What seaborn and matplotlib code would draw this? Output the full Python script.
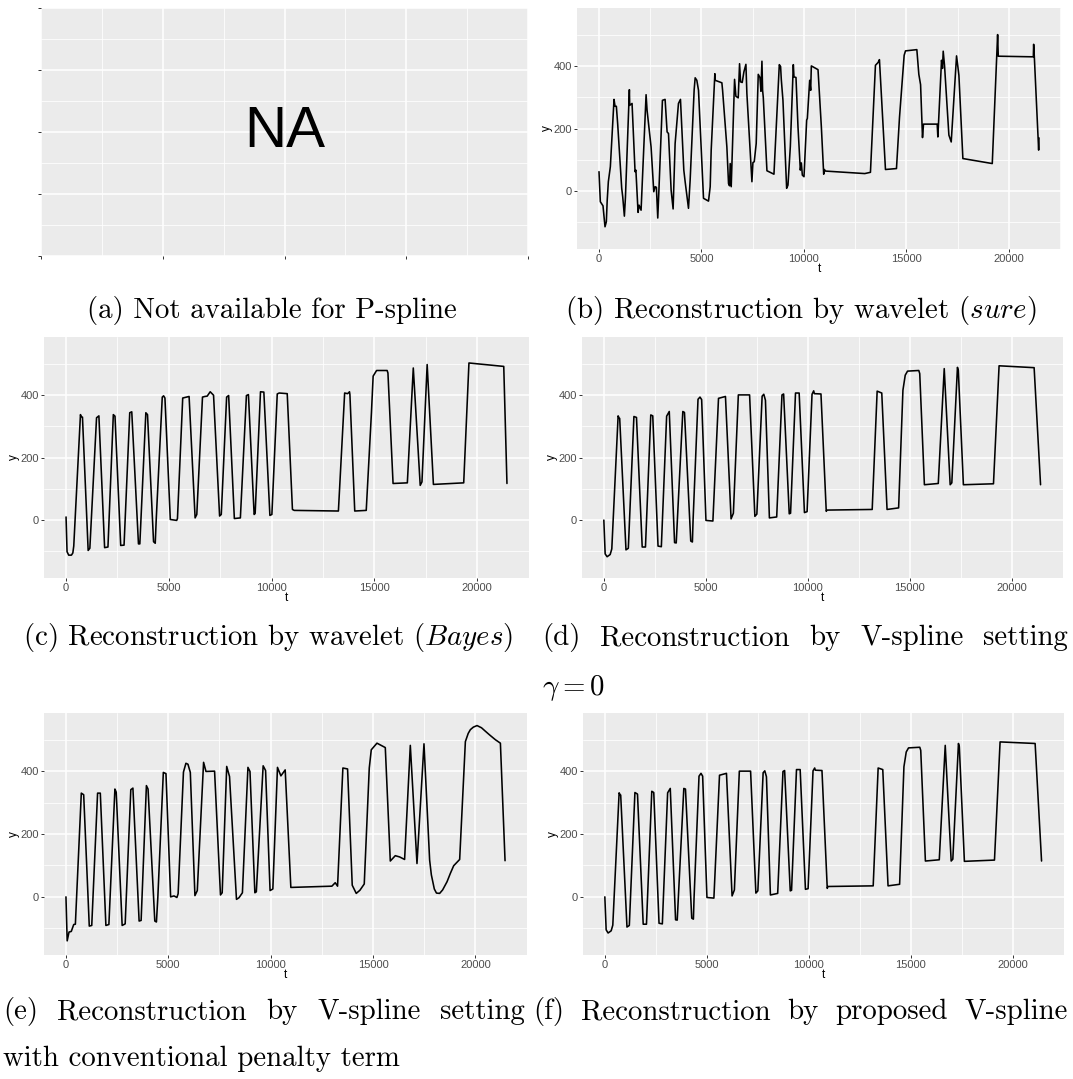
import matplotlib
matplotlib.use("Agg")
import numpy as np
import pandas as pd
import matplotlib.pyplot as plt
import seaborn as sns

# ---------------------------------------------------------------- data
# (b) wavelet reconstruction, sure thresholding
t_b = [0, 65, 195, 293, 358, 400, 456, 554, 733, 782, 847, 912, 1108, 1157, 1238, 1290,
       1482, 1499, 1613, 1759, 1800, 1906, 1955, 2053, 2297, 2346, 2541, 2672, 2737, 2800,
       2867, 2930, 3095, 3225, 3323, 3390, 3519, 3616, 3714, 3877, 3975, 4138, 4203, 4366,
       4447, 4643, 4692, 4773, 4855, 5099, 5343, 5425, 5474, 5653, 5669, 5995, 6030, 6239,
       6320, 6369, 6402, 6451, 6614, 6679, 6793, 6858, 6907, 6988, 7070, 7168, 7215, 7461,
       7510, 7575, 7670, 7770, 7852, 7901, 7950, 7982, 8015, 8194, 8536, 8797, 8860, 8894,
       8975, 9155, 9220, 9335, 9481, 9513, 9611, 9709, 9823, 9872, 9921, 10002, 10132,
       10165, 10279, 10328, 10360, 10686, 10849, 10963, 10996, 11044, 12967, 13244, 13488,
       13618, 13683, 13977, 14514, 14661, 14889, 14954, 15508, 15605, 15690, 15784, 15833,
       16501, 16533, 16712, 16760, 16794, 16860, 17071, 17185, 17445, 17560, 17722, 17754,
       19188, 19449, 19481, 21191, 21207, 21240, 21451, 21468]
y_b = [62, -34, -47, -114, -98, -30, 30, 78, 293, 271, 271, 214, 9, -18, -80, -20,
       324, 274, 280, 62, 67, -68, -45, -61, 308, 258, 141, -2, 14, 12,
       -86, 14, 290, 293, 189, 184, 3, -57, 152, 280, 293, 67, 30, -55,
       35, 324, 362, 354, 322, -23, -32, 14, 131, 375, 354, 346, 322, 141,
       24, 17, 88, 14, 357, 303, 298, 407, 349, 347, 381, 405, 312, 30,
       91, 94, 152, 373, 363, 319, 415, 322, 300, 65, 54, 404, 398, 357,
       290, 9, 19, 142, 404, 365, 363, 205, 67, 90, 51, 46, 227,
       232, 354, 322, 400, 388, 205, 54, 69, 64, 56, 60, 402,
       411, 420, 69, 72, 235, 434, 448, 452, 373, 340, 171, 214,
       214, 173, 418, 392, 447, 400, 179, 157, 432, 370, 145, 104,
       88, 500, 431, 429, 469, 429, 131, 170]

# (c) wavelet reconstruction, Bayes thresholding
t_c = [0, 49, 130, 261, 330, 375, 701, 740, 799, 1076, 1158, 1484, 1598, 1876, 2039, 2300,
       2381, 2659, 2822, 3099, 3197, 3523, 3590, 3882, 3963, 4257, 4339, 4387, 4681, 4746,
       4811, 5072, 5382, 5420, 5676, 5986, 6279, 6361, 6638, 6752, 6866, 7013, 7176, 7470,
       7552, 7812, 7910, 8188, 8481, 8775, 8873, 9150, 9200, 9460, 9623, 9917, 10014, 10275,
       10370, 10760, 11014, 11100, 13250, 13554, 13700, 13790, 13810, 14045, 14604, 14857,
       14940, 15108, 15620, 15660, 15909, 16604, 16893, 17230, 17315, 17568, 17872, 19346,
       19601, 21294, 21450]
y_c = [10, -101, -112, -112, -105, -83, 337, 330, 329, -97, -90, 327, 333, -88, -86, 337,
       332, -81, -80, 343, 346, -76, -76, 343, 337, -69, -74, 2, 393, 397,
       390, 2, -1, 5, 390, 395, 7, 18, 393, 395, 396, 410, 399, 13,
       18, 393, 398, 5, 7, 398, 401, 18, 21, 410, 409, 15, 18, 403,
       406, 404, 34, 31, 29, 406, 404, 410, 401, 29, 31, 343,
       460, 478, 478, 470, 117, 119, 486, 111, 122, 497, 114, 119,
       502, 491, 117]

# (d) V-spline with gamma = 0
t_d = [0, 65, 160, 310, 390, 700, 750, 777, 1085, 1200, 1474, 1600, 1880, 2040, 2300, 2397,
       2656, 2818, 3077, 3206, 3466, 3547, 3870, 3951, 4259, 4340, 4372, 4615, 4712, 4793,
       5004, 5344, 5619, 5960, 6235, 6348, 6591, 7142, 7401, 7498, 7757, 7838, 7919, 8113,
       8470, 8729, 8810, 9085, 9150, 9392, 9571, 9830, 9960, 10202, 10283, 10315, 10640,
       10899, 10931, 13150, 13393, 13619, 13878, 14445, 14656, 14769, 14882, 15433, 15480,
       15708, 16388, 16680, 16971, 17052, 17328, 17370, 17619, 19093, 19368, 21085, 21400]
y_d = [0, -108, -117, -110, -92, 333, 326, 325, -95, -90, 331, 328, -86, -86, 336, 333,
       -83, -85, 332, 347, -72, -73, 347, 344, -67, -70, -2, 386, 393, 385,
       -1, -3, 389, 395, 4, 22, 400, 400, 12, 19, 396, 402, 383, 7,
       10, 400, 403, 20, 22, 406, 406, 24, 27, 402, 413, 404, 403,
       28, 32, 34, 412, 406, 34, 39, 415, 463, 476, 478, 468,
       113, 117, 484, 113, 119, 488, 478, 113, 116, 493, 487, 113]

# (e) V-spline with the conventional penalty term
t_e = [0, 60, 150, 260, 380, 460, 750, 866, 1139, 1260, 1545, 1678, 1951, 2097, 2391, 2456,
       2745, 2893, 3168, 3271, 3574, 3672, 3930, 4010, 4340, 4420, 4488, 4757, 4886, 5113,
       5280, 5420, 5480, 5740, 5860, 5960, 6075, 6300, 6416, 6723, 6840, 7260, 7548, 7632,
       7853, 7990, 8330, 8450, 8620, 8890, 8990, 9228, 9300, 9633, 9752, 9971, 10107,
       10333, 10500, 10710, 10986, 12990, 13154, 13268, 13528, 13757, 13985, 14181, 14360,
       14572, 14817, 14915, 15193, 15600, 15844, 16088, 16300, 16543, 16822, 17148, 17490,
       17766, 17850, 17995, 18100, 18254, 18400, 18615, 18780, 18940, 19233, 19512, 19650,
       19756, 19900, 20082, 20300, 20489, 20700, 20978, 21223, 21450]
y_e = [0, -140, -112, -110, -88, -87, 330, 325, -93, -91, 330, 330, -91, -88, 343, 333,
       -91, -86, 341, 346, -77, -75, 354, 343, -77, -80, -2, 396, 392, 0,
       3, -2, 10, 397, 425, 422, 396, 4, 20, 428, 399, 400, 6, 13,
       415, 383, -8, -3, 13, 412, 399, 13, 16, 417, 402, 20, 25,
       412, 385, 404, 30, 34, 45, 34, 410, 407, 37, 11, 21,
       41, 410, 468, 489, 475, 114, 131, 127, 119, 482, 106, 487,
       117, 70, 25, 12, 11, 22, 48, 75, 99, 119, 494, 520,
       532, 540, 545, 538, 527, 515, 500, 489, 115]

# (f) proposed V-spline
t_f = [0, 65, 160, 310, 390, 700, 750, 777, 1085, 1200, 1474, 1600, 1880, 2040, 2300, 2397,
       2656, 2818, 3077, 3206, 3466, 3547, 3870, 3951, 4259, 4340, 4372, 4615, 4712, 4793,
       5004, 5344, 5619, 5960, 6235, 6348, 6591, 7142, 7401, 7498, 7757, 7838, 7919, 8113,
       8470, 8729, 8810, 9085, 9150, 9392, 9571, 9830, 9960, 10202, 10283, 10315, 10640,
       10899, 10931, 13150, 13393, 13619, 13878, 14445, 14656, 14769, 14882, 15433, 15480,
       15708, 16388, 16680, 16971, 17052, 17328, 17370, 17619, 19093, 19368, 21085, 21400]
y_f = [0, -105, -115, -108, -90, 331, 325, 324, -96, -91, 332, 327, -87, -87, 336, 332,
       -84, -86, 331, 345, -73, -74, 345, 343, -68, -71, -3, 384, 393, 384,
       -2, -4, 387, 393, 3, 22, 400, 400, 12, 19, 395, 401, 382, 6,
       11, 399, 402, 19, 21, 405, 405, 24, 26, 401, 410, 403, 402,
       27, 33, 35, 410, 405, 35, 40, 414, 461, 474, 476, 466,
       114, 118, 482, 114, 120, 488, 478, 113, 117, 493, 488, 114]

x_ticks = [0, 5000, 10000, 15000, 20000]
x_tick_labels = ["0", "5000", "10000", "15000", "20000"]
x_minor = [2500, 7500, 12500, 17500, 22500]
y_ticks = [0, 200, 400]
y_tick_labels = ["0", "200", "400"]
y_minor = [-100, 100, 300, 500]
y_limits = (-185, 585)

caption_a = "(a) Not available for P-spline"
caption_b = r"(b) Reconstruction by wavelet ($\mathit{sure}$)"
caption_c = r"(c) Reconstruction by wavelet ($\mathit{Bayes}$)"
caption_d = ["(d)", "Reconstruction", "by", "V-spline", "setting"]
caption_d2 = r"$\gamma = 0$"
caption_e = ["(e)", "Reconstruction", "by", "V-spline", "setting"]
caption_e2 = "with conventional penalty term"
caption_f = ["(f)", "Reconstruction", "by", "proposed", "V-spline"]

# ---------------------------------------------------------------- style
sns.set_theme(style="darkgrid")
plt.rcParams["font.family"] = ["Liberation Sans", "DejaVu Sans"]
plt.rcParams["mathtext.fontset"] = "cm"

W, H = 1073, 1079
fig = plt.figure(figsize=(W / 100, H / 100), dpi=100)
fig.patch.set_facecolor("white")

PANEL_BG = "#EBEBEB"
TICK_GREY = "#4D4D4D"
CAP_SIZE = 20.8


def panel_axes(left, top, right, bottom):
    return fig.add_axes([left / W, 1 - bottom / H, (right - left) / W, (bottom - top) / H])


def style_axes(ax):
    ax.set_facecolor(PANEL_BG)
    for s in ax.spines.values():
        s.set_visible(False)
    ax.set_axisbelow(True)
    ax.grid(which="major", color="white", lw=1.1)
    ax.grid(which="minor", color="white", lw=0.55)
    ax.tick_params(which="major", bottom=True, left=True, length=2.5, width=0.7,
                   color="#333333", pad=1.2, labelsize=8, labelcolor=TICK_GREY)
    ax.tick_params(which="minor", bottom=False, left=False, length=0)


def draw_series(ax, t, y):
    df = pd.DataFrame({"t": t, "y": y})
    sns.lineplot(data=df, x="t", y="y", ax=ax, color="black", lw=1.15,
                 estimator=None, legend=False)
    span = max(t) - min(t)
    ax.set_xlim(min(t) - 0.05 * span, max(t) + 0.05 * span)
    ax.set_ylim(*y_limits)
    ax.set_xticks(x_ticks)
    ax.set_xticklabels(x_tick_labels)
    ax.set_xticks(x_minor, minor=True)
    ax.set_yticks(y_ticks)
    ax.set_yticklabels(y_tick_labels)
    ax.set_yticks(y_minor, minor=True)
    style_axes(ax)
    ax.set_xlabel("t", fontsize=8.5, labelpad=-1, color="black")
    ax.set_ylabel("y", fontsize=8.5, labelpad=0.5, color="black")


# (a) empty panel
ax_a = panel_axes(41, 7.7, 528, 256)
ax_a.set_xlim(0, 1)
ax_a.set_ylim(0, 1)
ax_a.set_xticks([0, 0.25, 0.5, 0.75, 1])
ax_a.set_xticks([0.125, 0.375, 0.625, 0.875], minor=True)
ax_a.set_yticks([0, 0.25, 0.5, 0.75, 1])
ax_a.set_yticks([0.125, 0.375, 0.625, 0.875], minor=True)
ax_a.set_xticklabels([])
ax_a.set_yticklabels([])
style_axes(ax_a)
ax_a.text(0.5, 0.5, "NA", ha="center", va="center", fontsize=42,
          family="Liberation Sans", color="black", transform=ax_a.transAxes)

ax_b = panel_axes(577, 8, 1061, 249)
draw_series(ax_b, t_b, y_b)
ax_c = panel_axes(44, 337, 529, 578)
draw_series(ax_c, t_c, y_c)
ax_d = panel_axes(582, 337, 1063, 578)
draw_series(ax_d, t_d, y_d)
ax_e = panel_axes(44, 713, 527, 955)
draw_series(ax_e, t_e, y_e)
ax_f = panel_axes(583, 713, 1064, 955)
draw_series(ax_f, t_f, y_f)

# ---------------------------------------------------------------- captions
renderer = fig.canvas.get_renderer()


def caption(text, x_left, baseline):
    fig.text(x_left / W, 1 - baseline / H, text, ha="left", va="baseline",
             fontfamily="cmr10", fontsize=CAP_SIZE, color="black")


def justified(words, x_left, x_right, baseline):
    items = [fig.text(0, 1 - baseline / H, w, ha="left", va="baseline",
                      fontfamily="cmr10", fontsize=CAP_SIZE, color="black")
             for w in words]
    widths = [it.get_window_extent(renderer).width for it in items]
    gap = (x_right - x_left - sum(widths)) / (len(words) - 1)
    x = x_left
    for it, w in zip(items, widths):
        it.set_x(x / W)
        x += w + gap


caption(caption_a, 87, 318)
caption(caption_b, 565, 318)
caption(caption_c, 23, 645)
justified(caption_d, 542, 1068, 645)
caption(caption_d2, 542, 695)
justified(caption_e, 3, 525, 1019)
caption(caption_e2, 3, 1066)
justified(caption_f, 533, 1068, 1019)

fig.savefig("out.png", dpi=100)
